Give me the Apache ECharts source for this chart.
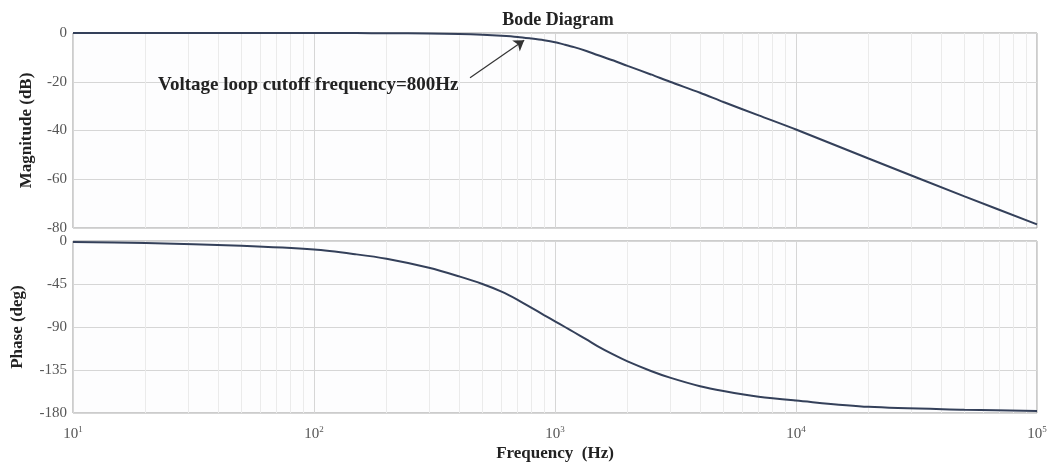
<!DOCTYPE html>
<html>
<head>
<meta charset="utf-8">
<script src="https://cdn.jsdelivr.net/npm/echarts@6/dist/echarts.min.js"></script>
<style>html,body{margin:0;padding:0;background:#fff}#c{width:1051px;height:464px}</style>
</head>
<body>
<div id="c"></div>
<script>
// Frequencies (Hz) and values
const freq      = [10, 20, 50, 100, 150, 200, 300, 400, 500, 600, 700, 800, 900, 1000, 1100, 1200, 1350, 1500, 1750, 2000, 2500, 3000, 4000, 5000, 7000, 10000, 20000, 50000, 100000];
const magnitude = [0, 0, 0, -0.05, -0.05, -0.1, -0.2, -0.4, -0.7, -1.1, -1.6, -2.3, -3.0, -3.8, -4.8, -5.8, -7.4, -9.0, -11.3, -13.5, -17.0, -20.0, -24.5, -28.3, -33.8, -39.6, -51.5, -67, -78.5];
const phase     = [-1, -2, -5, -9, -14, -18.6, -28, -37, -45, -53, -61.5, -70, -77.5, -84, -90, -95.5, -103, -110, -119, -126, -136, -143, -152, -157, -163, -167, -173.5, -176.5, -178];
const magTicks = [0, -20, -40, -60, -80];
const phaseTicks = [0, -45, -90, -135, -180];
const minorFreqs = [];
[10, 100, 1000, 10000].forEach(d => { for (let k = 2; k <= 9; k++) minorFreqs.push(k * d); });
const annotationText = 'Voltage loop cutoff frequency=800Hz';
const arrowFrom = [444, -18.4];
const arrowTo = [745, -3.0];

const serif = '"Liberation Serif", "DejaVu Serif", serif';
const lineColor = '#34405a';
const chart = echarts.init(document.getElementById('c'), null, {renderer: 'canvas'});

function minorLines() {
  return {
    silent: true, symbol: ['none', 'none'], label: {show: false}, z: 1,
    lineStyle: {color: '#ebebeb', type: 'solid', width: 1},
    animation: false,
    data: minorFreqs.map(v => ({xAxis: v}))
  };
}

const xCommon = {
  type: 'log', logBase: 10, min: 10, max: 100000,
  axisLine: {show: false}, axisTick: {show: false}, minorTick: {show: false},
  splitLine: {show: true, lineStyle: {color: '#d6d6d6', width: 1}}
};
const nameStyle = {fontFamily: serif, fontWeight: 'bold', fontSize: 17, color: '#222'};

chart.setOption({
  animation: false,
  backgroundColor: '#ffffff',
  title: {
    text: 'Bode Diagram', left: 553, top: 6, textAlign: 'center',
    textStyle: {fontFamily: serif, fontWeight: 'bold', fontSize: 18, color: '#222'}
  },
  grid: [
    {left: 73, right: 14, top: 33, height: 195, show: true, borderColor: '#9a9a9a', borderWidth: 1, backgroundColor: '#fdfdfe', outerBoundsMode: 'none', containLabel: false},
    {left: 73, right: 14, top: 241, height: 172, show: true, borderColor: '#9a9a9a', borderWidth: 1, backgroundColor: '#fdfdfe', outerBoundsMode: 'none', containLabel: false}
  ],
  xAxis: [
    Object.assign({gridIndex: 0, axisLabel: {show: false}}, xCommon),
    Object.assign({gridIndex: 1,
      name: 'Frequency  (Hz)', nameLocation: 'middle', nameGap: 32,
      nameTextStyle: nameStyle,
      axisLabel: {
        show: true, margin: 12, color: '#555',
        formatter: v => '{b|10}{s|' + Math.round(Math.log10(v)) + '}',
        rich: {
          b: {fontFamily: serif, fontSize: 15, color: '#555'},
          s: {fontFamily: serif, fontSize: 9, color: '#555', verticalAlign: 'top', padding: [0, 0, 9, 0]}
        }
      }
    }, xCommon)
  ],
  yAxis: [
    {
      gridIndex: 0, type: 'value', min: -80, max: 0, interval: 20,
      name: 'Magnitude (dB)', nameLocation: 'middle', nameGap: 38, nameRotate: 90,
      nameTextStyle: nameStyle,
      axisLine: {show: false}, axisTick: {show: false},
      axisLabel: {fontFamily: serif, fontSize: 15, color: '#555', margin: 6,
        formatter: v => magTicks.includes(v) ? String(v) : ''},
      splitLine: {show: true, lineStyle: {color: '#d6d6d6'}}
    },
    {
      gridIndex: 1, type: 'value', min: -180, max: 0, interval: 45,
      name: 'Phase (deg)', nameLocation: 'middle', nameGap: 47, nameRotate: 90,
      nameTextStyle: nameStyle,
      axisLine: {show: false}, axisTick: {show: false},
      axisLabel: {fontFamily: serif, fontSize: 15, color: '#555', margin: 6,
        formatter: v => phaseTicks.includes(v) ? String(v) : ''},
      splitLine: {show: true, lineStyle: {color: '#d6d6d6'}}
    }
  ],
  series: [
    {
      type: 'line', xAxisIndex: 0, yAxisIndex: 0, smooth: 0.3, showSymbol: false,
      data: freq.map((f, i) => [f, magnitude[i]]),
      lineStyle: {color: lineColor, width: 2},
      markLine: minorLines(),
      z: 6
    },
    {
      type: 'line', xAxisIndex: 1, yAxisIndex: 1, smooth: 0.3, showSymbol: false,
      data: freq.map((f, i) => [f, phase[i]]),
      lineStyle: {color: lineColor, width: 2},
      markLine: minorLines(),
      z: 6
    },
    {
      type: 'lines', coordinateSystem: 'cartesian2d', xAxisIndex: 0, yAxisIndex: 0,
      symbol: ['none', 'arrow'], symbolSize: 10, silent: true, z: 7,
      lineStyle: {color: '#333', width: 1.2, opacity: 1},
      data: [{coords: [arrowFrom, arrowTo]}]
    }
  ],
  graphic: [{
    type: 'text', left: 158, top: 76, silent: true, z: 100,
    style: {text: annotationText, font: 'bold 19px ' + serif, fill: '#222'}
  }]
});
</script>
</body>
</html>
